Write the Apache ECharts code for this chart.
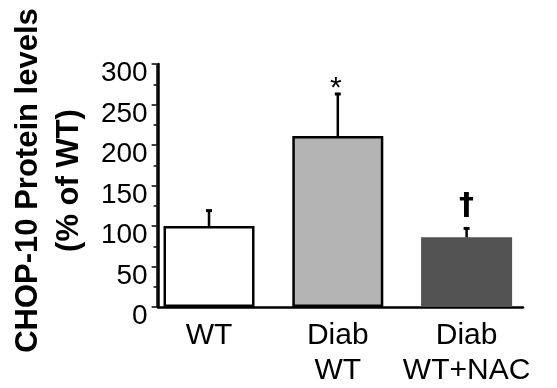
<!DOCTYPE html>
<html>
<head>
<meta charset="utf-8">
<script src="https://cdn.jsdelivr.net/npm/echarts@6/dist/echarts.min.js"></script>
<style>
html,body{margin:0;padding:0;background:#fff;}
#chart{width:557px;height:388px;}
</style>
</head>
<body>
<div id="chart"></div>
<script>
const categories = ['WT', 'Diab\nWT', 'Diab\nWT+NAC'];
const means = [100, 211, 86];
const errUpper = [119, 263, 97];
const annotations = ['', '*', '\u2020'];
const barColors = ['#ffffff', '#b4b4b4', '#535353'];
const barBorders = ['#000000', '#000000', '#535353'];
const yMin = 0, yMax = 300, yStep = 50;

const FONT = '"Liberation Sans", Arial, sans-serif';
const chart = echarts.init(document.getElementById('chart'), null, {renderer: 'canvas'});

chart.setOption({
  animation: false,
  backgroundColor: '#ffffff',
  grid: [
    {left: 142, right: 26, top: 64, bottom: 81},
    {left: 158, right: 34, top: 64, bottom: 81}
  ],
  xAxis: [
    {
      type: 'category', gridIndex: 0, data: categories,
      axisLine: {show: false}, axisTick: {show: false},
      axisLabel: {color: '#000', fontFamily: FONT, fontSize: 30, lineHeight: 35, margin: 11, interval: 0}
    },
    {
      type: 'value', gridIndex: 1, min: 0, max: 1,
      axisLine: {show: true, lineStyle: {color: '#000', width: 2.5}},
      axisTick: {show: false}, axisLabel: {show: false}, splitLine: {show: false}
    }
  ],
  yAxis: [
    {
      type: 'value', gridIndex: 0, min: yMin, max: yMax, interval: yStep,
      offset: -12,
      axisLine: {show: true, lineStyle: {color: '#000', width: 1.5}},
      axisTick: {show: true, length: 5, lineStyle: {color: '#000', width: 1.5}},
      minorTick: {show: true, splitNumber: 2, length: 3, lineStyle: {color: '#000', width: 1.5}},
      splitLine: {show: false},
      axisLabel: {color: '#000', fontFamily: FONT, fontSize: 28, margin: 9, verticalAlign: 'top', lineHeight: 19},
      name: 'CHOP-10 Protein levels\n(% of WT)',
      nameLocation: 'middle',
      nameRotate: 90,
      nameGap: 62,
      nameTextStyle: {color: '#000', fontFamily: FONT, fontSize: 31, fontWeight: 'bold', lineHeight: 41, padding: [0, 0, 0, 10]}
    },
    {
      type: 'value', gridIndex: 1, min: yMin, max: yMax,
      axisLine: {show: true, lineStyle: {color: '#000', width: 2.5}},
      axisTick: {show: false}, axisLabel: {show: false}, splitLine: {show: false}
    }
  ],
  series: [
    {
      type: 'bar', xAxisIndex: 0, yAxisIndex: 0,
      barWidth: 91,
      data: means.map((v, i) => ({
        value: v,
        itemStyle: {color: barColors[i], borderColor: barBorders[i], borderWidth: 2.5}
      })),
      z: 2
    },
    {
      type: 'custom', xAxisIndex: 0, yAxisIndex: 0,
      data: means.map((v, i) => [i, v, errUpper[i]]),
      z: 3,
      renderItem: function (params, api) {
        const i = api.value(0);
        const base = api.coord([i, api.value(1)]);
        const top = api.coord([i, api.value(2)]);
        const children = [
          {type: 'line', shape: {x1: base[0], y1: base[1], x2: top[0], y2: top[1]}, style: {stroke: '#000', lineWidth: 2.5}},
          {type: 'line', shape: {x1: top[0] - 3, y1: top[1], x2: top[0] + 3, y2: top[1]}, style: {stroke: '#000', lineWidth: 3}}
        ];
        const ann = annotations[i];
        if (ann) {
          const isStar = ann === '*';
          children.push({
            type: 'text',
            style: {
              text: ann, x: top[0] - (isStar ? 2 : 0), y: top[1] + (isStar ? 10 : -7),
              textAlign: 'center', textVerticalAlign: 'bottom',
              font: isStar ? ('normal 30px ' + FONT) : 'bold 30px "DejaVu Sans", sans-serif',
              fill: '#000'
            }
          });
        }
        return {type: 'group', children: children};
      }
    }
  ]
});
</script>
</body>
</html>
